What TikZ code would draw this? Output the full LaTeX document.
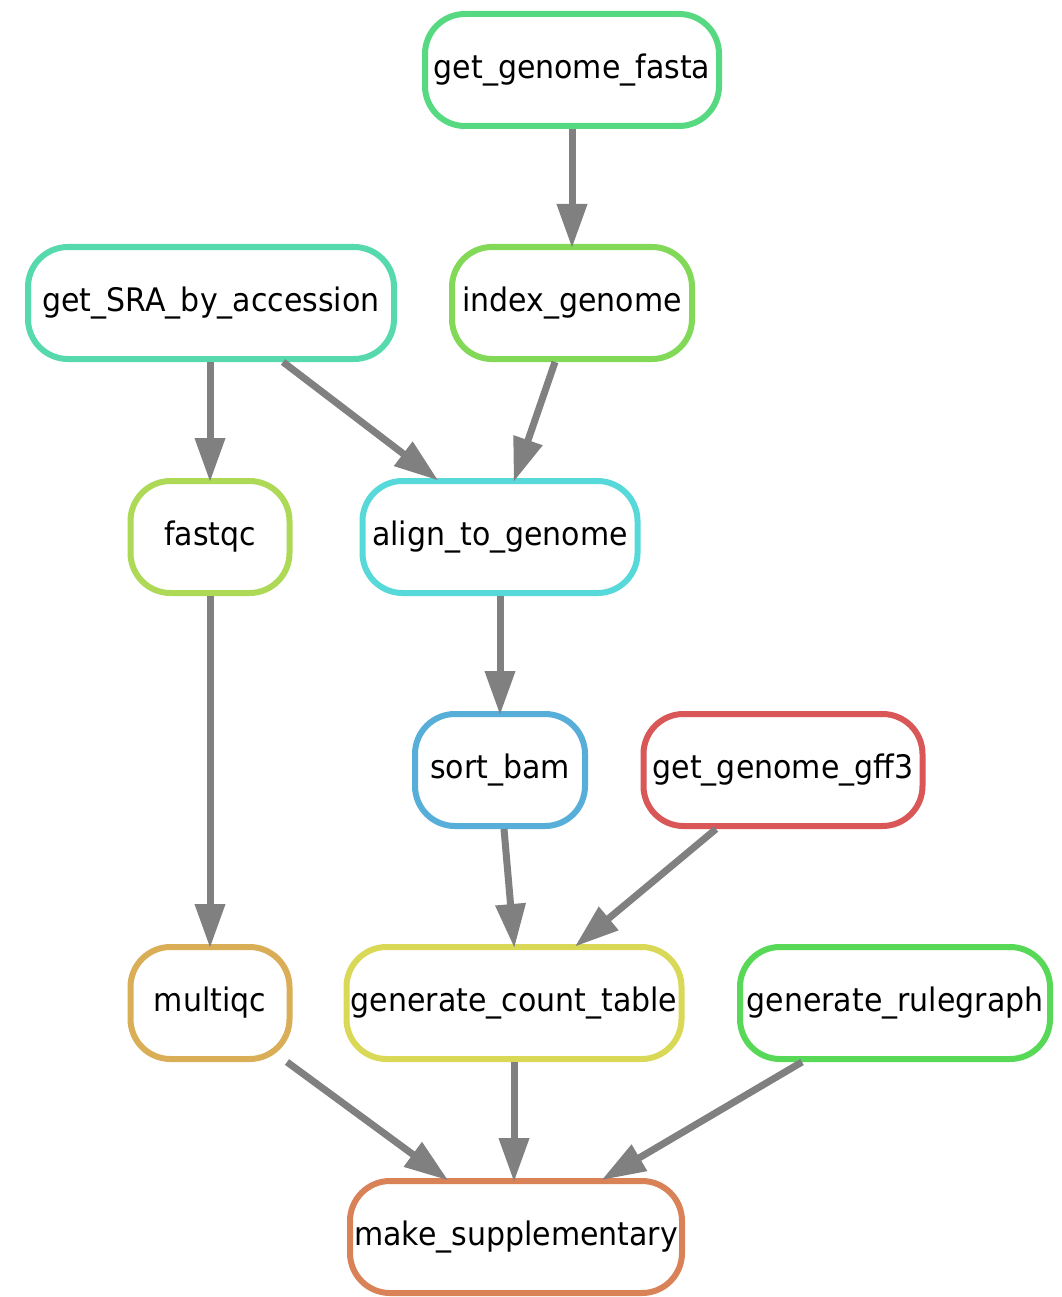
\documentclass[tikz,border=0pt]{standalone}
\usepackage{fontspec}
\setmainfont{DejaVu Sans}
\usetikzlibrary{arrows.meta}
\definecolor{cgff}{RGB}{217,87,87}
\definecolor{cmake}{RGB}{217,130,87}
\definecolor{cmultiqc}{RGB}{217,174,87}
\definecolor{ccount}{RGB}{217,217,87}
\definecolor{cfastqc}{RGB}{174,217,87}
\definecolor{cindex}{RGB}{130,217,87}
\definecolor{crule}{RGB}{87,217,87}
\definecolor{cfasta}{RGB}{87,217,130}
\definecolor{csra}{RGB}{87,217,174}
\definecolor{calign}{RGB}{87,217,217}
\definecolor{csort}{RGB}{87,174,217}
\definecolor{edgegray}{RGB}{128,128,128}
\newcommand{\lbl}[1]{\scalebox{1}[1.08]{#1}}
\tikzset{
  rulebox/.style={draw, line width=6pt, rounded corners=40pt, minimum height=112pt,
    inner sep=0pt, align=center, fill=white, text=black,
    font=\fontsize{30}{36}\selectfont},
  dep/.style={draw=edgegray, line width=7pt, shorten >=-4pt,
    -{Triangle[length=44pt,width=29pt]}}
}
\begin{document}
\begin{tikzpicture}[x=1pt,y=-1pt]
\fill[white] (0,0) rectangle (1061,1297);
\useasboundingbox (0,0) rectangle (1061,1297);
\node[rulebox, draw=cfasta, minimum width=294pt] (fasta) at (572,70) {\lbl{get\_genome\_fasta}};
\node[rulebox, draw=csra, minimum width=366pt] (sra) at (211,303) {\lbl{get\_SRA\_by\_accession}};
\node[rulebox, draw=cindex, minimum width=240pt] (index) at (572,303) {\lbl{index\_genome}};
\node[rulebox, draw=cfastqc, minimum width=159pt] (fastqc) at (210,537) {\lbl{fastqc}};
\node[rulebox, draw=calign, minimum width=275pt] (align) at (500,537) {\lbl{align\_to\_genome}};
\node[rulebox, draw=csort, minimum width=170pt] (sort) at (500,770) {\lbl{sort\_bam}};
\node[rulebox, draw=cgff, minimum width=279pt] (gff) at (783,770) {\lbl{get\_genome\_gff3}};
\node[rulebox, draw=cmultiqc, minimum width=159pt] (multiqc) at (210,1003) {\lbl{multiqc}};
\node[rulebox, draw=ccount, minimum width=335pt] (count) at (514,1003) {\lbl{generate\_count\_table}};
\node[rulebox, draw=crule, minimum width=310pt] (rulegraph) at (895,1003) {\lbl{generate\_rulegraph}};
\node[rulebox, draw=cmake, minimum width=332pt] (make) at (516,1237) {\lbl{make\_supplementary}};

\draw[dep] (fasta.south) -- (index.north);
\draw[dep] (fastqc.north |- sra.south) -- (fastqc.north);
\draw[dep] ([xshift=72pt]sra.south) -- ([xshift=-65pt]align.north);
\draw[dep] ([xshift=-17pt]index.south) -- ([xshift=15pt]align.north);
\draw[dep] (align.south) -- (sort.north);
\draw[dep] (fastqc.south) -- (multiqc.north);
\draw[dep] ([xshift=4pt]sort.south) -- (count.north);
\draw[dep] ([xshift=-67pt]gff.south) -- ([xshift=64pt]count.north);
\draw[dep] ([xshift=77pt]multiqc.south) -- ([xshift=-71pt]make.north);
\draw[dep] (count.south) -- (count.south |- make.north);
\draw[dep] ([xshift=-93pt]rulegraph.south) -- ([xshift=89pt]make.north);
\end{tikzpicture}
\end{document}
